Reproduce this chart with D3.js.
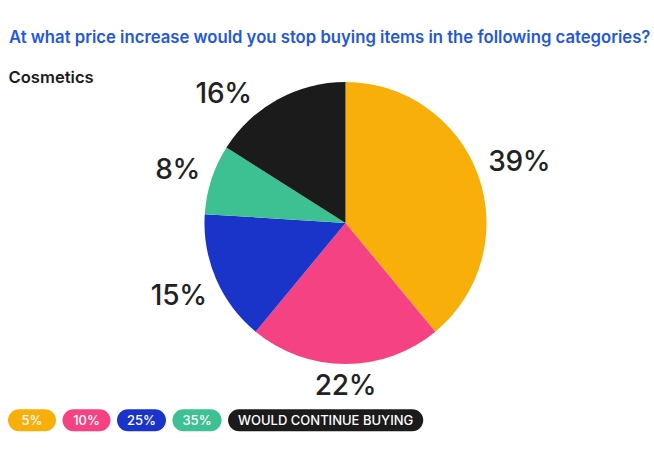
<!DOCTYPE html>
<html>
<head>
<meta charset="utf-8">
<script src="https://cdn.jsdelivr.net/npm/d3@7"></script>
<style>
  html, body { margin: 0; padding: 0; background: #fff; }
  svg { display: block; font-family: Inter, "Noto Sans", sans-serif; }
</style>
</head>
<body>
<svg id="chart" width="654" height="455"></svg>
<script>
const title = "At what price increase would you stop buying items in the following categories?";
const subtitle = "Cosmetics";
const categories = ["5%", "10%", "25%", "35%", "WOULD CONTINUE BUYING"];
const values = [39, 22, 15, 8, 16];
const colors = ["#F8AF0A", "#F44282", "#1A33C9", "#3EC192", "#1B1B1B"];

const W = 654, H = 455;
const svg = d3.select("#chart");

// Title & subtitle
svg.append("text")
  .attr("x", 9).attr("y", 42.5)
  .attr("font-size", 16.7).attr("font-weight", 600)
  .attr("fill", "#2458D8")
  .text(title);

svg.append("text")
  .attr("x", 8.5).attr("y", 83.3)
  .attr("font-size", 16.6).attr("font-weight", 600)
  .attr("fill", "#1B1B1B")
  .text(subtitle);

// Pie
const cx = 345.5, cy = 223, r = 141;
const g = svg.append("g").attr("transform", `translate(${cx},${cy})`);
const pie = d3.pie().sort(null).value(d => d.v);
const data = pie(values.map((v, i) => ({ v, c: colors[i], k: categories[i] })));
const arc = d3.arc().innerRadius(0).outerRadius(r);

g.selectAll("path.slice").data(data).join("path")
  .attr("class", "slice")
  .attr("d", arc)
  .attr("fill", d => d.data.c);

// Labels: box placed just outside the pie along the mid-angle, clamped to the pie's top
const fontSize = 28, capH = fontSize * 0.727, gapR = r + 11;
const minTop = -r;
const labels = g.selectAll("text.lbl").data(data).join("text")
  .attr("class", "lbl")
  .attr("font-size", fontSize)
  .attr("font-weight", 500)
  .attr("letter-spacing", -0.3)
  .attr("fill", "#222")
  .attr("text-anchor", "middle")
  .text(d => d.data.v + "%");

labels.each(function(d) {
  const w = this.getComputedTextLength();
  const pos = th => {
    const s = Math.sin(th), c = -Math.cos(th);
    const dist = gapR + (w / 2) * Math.abs(s) + (capH / 2) * Math.abs(c);
    return [s * dist, c * dist];
  };
  let th = (d.startAngle + d.endAngle) / 2;
  let p = pos(th);
  let guard = 0;
  while (p[1] - capH / 2 < minTop && guard < 2000) {
    th += (Math.sin(th) < 0 ? -0.002 : 0.002);
    p = pos(th);
    guard++;
  }
  d3.select(this).attr("x", p[0]).attr("y", p[1] + capH / 2);
});

// Legend pills
const legend = svg.append("g").attr("transform", "translate(8,409.3)");
const pillH = 22, pillGap = 6.5, minW = 48, pad = 10;
let lx = 0;
categories.forEach((cat, i) => {
  const gi = legend.append("g").attr("transform", `translate(${lx},0)`);
  const rect = gi.append("rect").attr("height", pillH).attr("rx", pillH / 2).attr("fill", colors[i]);
  const t = gi.append("text")
    .attr("y", pillH / 2 + 4.7)
    .attr("font-size", 13).attr("font-weight", 500)
    .attr("fill", "#fff").attr("text-anchor", "middle")
    .text(cat);
  const tw = t.node().getComputedTextLength();
  const w = Math.max(minW, tw + 2 * pad);
  rect.attr("width", w);
  t.attr("x", w / 2);
  lx += w + pillGap;
});
</script>
</body>
</html>
